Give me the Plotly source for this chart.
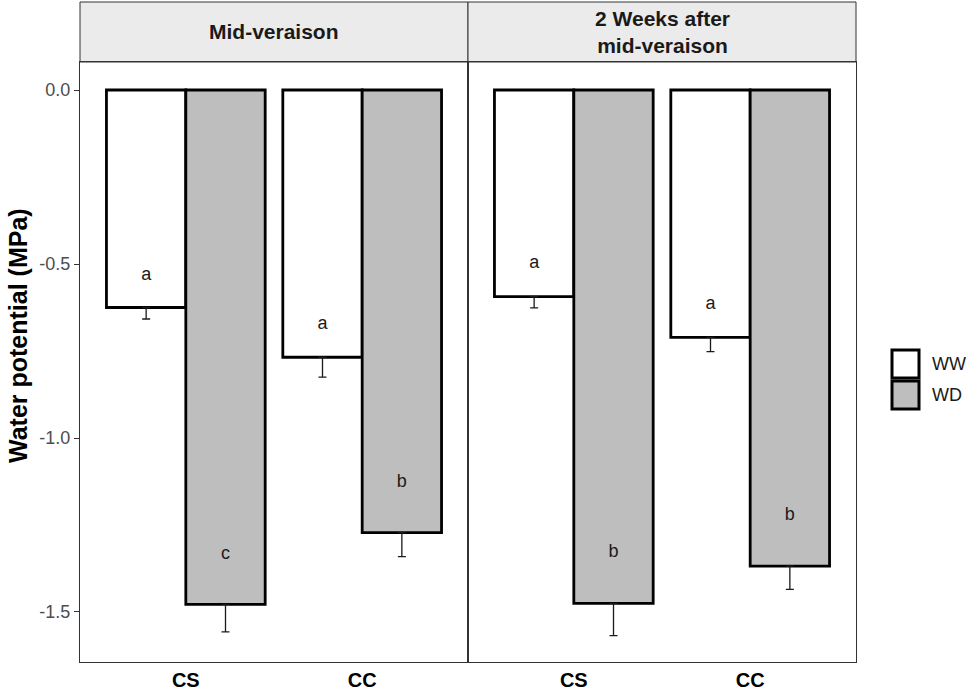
import plotly.graph_objects as go
from plotly.subplots import make_subplots

# ---- data ----
panels = ["Mid-veraison", "2 Weeks after<br>mid-veraison"]
cultivars = ["CS", "CC"]
treatments = ["WW", "WD"]
fills = {"WW": "#FFFFFF", "WD": "#BEBEBE"}
y_title = "Water potential (MPa)"

# means per panel, per treatment, ordered by cultivar (CS, CC)
mean_mid_WW = [-0.625, -0.768]
mean_mid_WD = [-1.478, -1.272]
mean_2w_WW = [-0.594, -0.711]
mean_2w_WD = [-1.475, -1.368]

se_mid_WW = [0.033, 0.057]
se_mid_WD = [0.079, 0.069]
se_2w_WW = [0.032, 0.041]
se_2w_WD = [0.093, 0.067]

letters_mid_WW = ["a", "a"]
letters_mid_WD = ["c", "b"]
letters_2w_WW = ["a", "a"]
letters_2w_WD = ["b", "b"]

lety_mid_WW = [-0.532, -0.675]
lety_mid_WD = [-1.334, -1.128]
lety_2w_WW = [-0.498, -0.616]
lety_2w_WD = [-1.328, -1.224]

yticks = [0.0, -0.5, -1.0, -1.5]
ytick_labels = ["0.0", "-0.5", "-1.0", "-1.5"]

data = [
    {"WW": (mean_mid_WW, se_mid_WW, letters_mid_WW, lety_mid_WW),
     "WD": (mean_mid_WD, se_mid_WD, letters_mid_WD, lety_mid_WD)},
    {"WW": (mean_2w_WW, se_2w_WW, letters_2w_WW, lety_2w_WW),
     "WD": (mean_2w_WD, se_2w_WD, letters_2w_WD, lety_2w_WD)},
]

FONT = "Liberation Sans, Arial, sans-serif"
dodge = 0.9
bw = dodge / len(treatments)

fig = make_subplots(rows=1, cols=2, shared_yaxes=True, horizontal_spacing=0)

cat_x = [i + 1 for i in range(len(cultivars))]
for p in range(2):
    for t_i, t in enumerate(treatments):
        means, ses, lets, lety = data[p][t]
        off = -dodge / 2 + bw * (t_i + 0.5)
        xs = [c + off for c in cat_x]
        fig.add_trace(go.Bar(
            x=xs, y=means, width=bw,
            marker=dict(color=fills[t], line=dict(color="#000000", width=2.8)),
            error_y=dict(type="data", symmetric=False, array=[0] * len(ses),
                         arrayminus=ses, width=4, thickness=1.3, color="#1A1A1A"),
            showlegend=False, name=t,
        ), row=1, col=p + 1)
        fig.add_trace(go.Scatter(
            x=xs, y=lety, mode="text", text=lets,
            textfont=dict(family=FONT, size=18, color="#1A1A1A"),
            showlegend=False, hoverinfo="skip",
        ), row=1, col=p + 1)

ax_common = dict(showline=True, mirror=True, linecolor="#333333", linewidth=1,
                 showgrid=False, zeroline=False, automargin=False)

for c in (1, 2):
    fig.update_xaxes(range=[0.4, 2.6], tickvals=cat_x, ticktext=cultivars,
                     ticks="", tickfont=dict(family=FONT, size=20, color="#000000",
                                             weight="bold"),
                     row=1, col=c, **ax_common)
    fig.update_yaxes(range=[-1.6437, 0.0805], tickvals=yticks, ticktext=ytick_labels,
                     row=1, col=c, **ax_common)

fig.update_yaxes(ticks="outside", ticklen=5, tickcolor="#333333", tickwidth=1,
                 tickfont=dict(family=FONT, size=18, color="#4D4D4D"),
                 row=1, col=1)
fig.update_yaxes(showticklabels=False, ticks="", row=1, col=2)

# facet strips
shapes = []
annotations = []
for p, xr in enumerate(["x domain", "x2 domain"]):
    shapes.append(dict(type="rect", xref=xr, yref="y domain", x0=0, x1=1, y0=1, y1=1.1,
                       fillcolor="#EBEBEB", line=dict(color="#333333", width=1), layer="below"))
    annotations.append(dict(text=panels[p], xref=xr, yref="y domain", x=0.5, y=1.05,
                            xanchor="center", yanchor="middle",
                            showarrow=False, align="center",
                            font=dict(family=FONT, size=21, color="#1A1A1A", weight="bold")))

# y-axis title
annotations.append(dict(text=y_title, xref="paper", yref="paper", x=-0.0799, y=0.545,
                        xanchor="center", yanchor="middle", textangle=-90, showarrow=False,
                        font=dict(family=FONT, size=25, color="#000000", weight="bold")))

# legend (drawn manually to match key size)
leg_boxes = [(0.52, 0.4733), (0.4683, 0.4217)]
for t, (y1, y0) in zip(treatments, leg_boxes):
    shapes.append(dict(type="rect", xref="paper", yref="paper", x0=1.0464, x1=1.0812,
                       y0=y0, y1=y1, fillcolor=fills[t], line=dict(color="#000000", width=3)))
    annotations.append(dict(text=t, xref="paper", yref="paper", x=1.0955, y=(y0 + y1) / 2,
                            xanchor="left", yanchor="middle", showarrow=False,
                            font=dict(family=FONT, size=18, color="#1A1A1A")))

fig.update_layout(
    width=969, height=694,
    margin=dict(l=80, r=113, t=62, b=32, autoexpand=False),
    paper_bgcolor="#FFFFFF", plot_bgcolor="#FFFFFF",
    barmode="overlay", showlegend=False,
    shapes=shapes, annotations=annotations,
    font=dict(family=FONT),
)

fig.write_html("out.html", config={"displayModeBar": False},
               post_script="document.body.style.margin='0px';document.body.style.overflow='hidden';")
